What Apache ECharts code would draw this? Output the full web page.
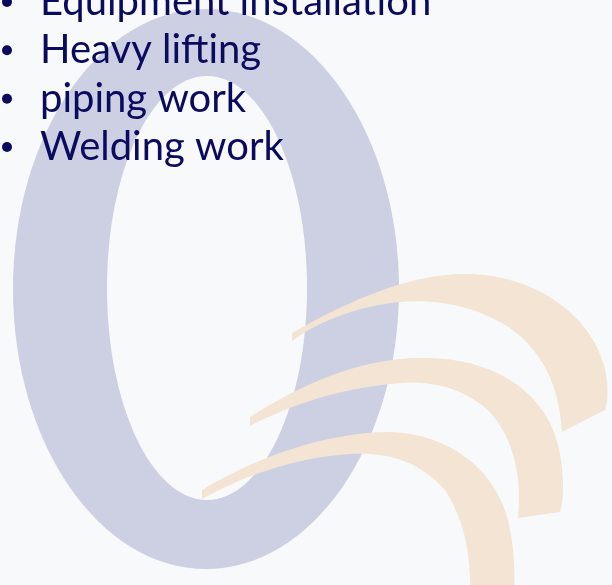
<!DOCTYPE html>
<html><head><meta charset="utf-8">
<script src="https://cdn.jsdelivr.net/npm/echarts@6/dist/echarts.min.js"></script>
<style>html,body{margin:0;padding:0;background:#f8f9fb}#c{width:612px;height:585px}</style>
</head><body><div id="c"></div>
<script>
// Bullet list text
const bulletItems = ['Equipment installation', 'Heavy lifting', 'piping work', 'Welding work'];

// Logo geometry (decorative background), in canvas-like units
const ringOuter = [206, 289, 193, 280];
const ringInner = [207, 288, 100, 212];
const swooshTop = [
  ['M', 292, 333], ['C', 350, 300, 410, 274, 465, 274], ['C', 535, 274, 590, 315, 604, 365],
  ['C', 610, 390, 607, 405, 605, 410], ['L', 562, 432], ['C', 560, 395, 548, 355, 510, 328],
  ['C', 480, 308, 440, 298, 400, 302], ['C', 360, 306, 320, 320, 292, 341], ['Z']
];
const swooshMid = [
  ['M', 250, 417], ['C', 300, 385, 360, 358, 420, 358], ['C', 490, 356, 545, 390, 558, 445],
  ['C', 565, 475, 564, 500, 560, 512], ['L', 518, 518], ['C', 522, 480, 515, 440, 490, 412],
  ['C', 465, 388, 430, 380, 400, 383], ['C', 340, 388, 290, 405, 250, 426], ['Z']
];
const swooshLow = [
  ['M', 202, 490], ['C', 260, 455, 330, 432, 390, 432], ['C', 450, 434, 495, 470, 508, 520],
  ['C', 515, 550, 515, 575, 514, 600], ['L', 470, 600], ['C', 472, 560, 465, 520, 445, 490],
  ['C', 420, 462, 390, 452, 350, 454], ['C', 290, 458, 240, 478, 202, 499], ['Z']
];

function ellipseSegs(e) {
  const [cx, cy, rx, ry] = e, k = 0.5523;
  return [
    ['M', cx - rx, cy],
    ['C', cx - rx, cy - ry * k, cx - rx * k, cy - ry, cx, cy - ry],
    ['C', cx + rx * k, cy - ry, cx + rx, cy - ry * k, cx + rx, cy],
    ['C', cx + rx, cy + ry * k, cx + rx * k, cy + ry, cx, cy + ry],
    ['C', cx - rx * k, cy + ry, cx - rx, cy + ry * k, cx - rx, cy],
    ['Z']
  ];
}

const logoShapes = [
  { segs: ellipseSegs(ringOuter), fill: '#cdd0e3' },
  { segs: ellipseSegs(ringInner), fill: '#f8f9fb' },
  { segs: swooshTop, fill: '#f3e4d3' },
  { segs: swooshMid, fill: '#f3e4d3' },
  { segs: swooshLow, fill: '#f3e4d3' }
];

const chart = echarts.init(document.getElementById('c'), null, { renderer: 'canvas' });
chart.setOption({
  backgroundColor: '#f8f9fb',
  animation: false,
  grid: [
    { left: 0, right: 0, top: 0, bottom: 0 },
    { left: 7, width: 100, top: 2, height: 145 }
  ],
  xAxis: [
    { gridIndex: 0, type: 'value', min: 0, max: 612, show: false },
    { gridIndex: 1, type: 'value', min: 0, max: 1, show: false }
  ],
  yAxis: [
    { gridIndex: 0, type: 'value', min: 0, max: 585, inverse: true, show: false },
    { gridIndex: 1, type: 'category', data: bulletItems, inverse: true, boundaryGap: false, show: false }
  ],
  series: [
    {
      type: 'custom', xAxisIndex: 0, yAxisIndex: 0, z: 1, silent: true, clip: false,
      data: logoShapes.map((s, i) => [i, 0]),
      renderItem: function (params, api) {
        const s = logoShapes[params.dataIndex];
        const d = s.segs.map(function (seg) {
          let out = seg[0];
          for (let i = 1; i < seg.length; i += 2) {
            const p = api.coord([seg[i], seg[i + 1]]);
            out += ' ' + p[0].toFixed(1) + ' ' + p[1].toFixed(1);
          }
          return out;
        }).join(' ');
        return { type: 'path', shape: { pathData: d }, style: { fill: s.fill } };
      }
    },
    {
      type: 'scatter', xAxisIndex: 1, yAxisIndex: 1, z: 5, silent: true, clip: false,
      symbol: 'circle', symbolSize: 10,
      itemStyle: { color: '#0a0a5e', opacity: 1 },
      data: bulletItems.map(n => [0, n]),
      label: {
        show: true, position: 'right', distance: 28,
        formatter: p => p.value[1],
        color: '#0a0a5e', fontFamily: 'Lato', fontSize: 40, fontWeight: 'normal'
      }
    }
  ]
});
</script>
</body></html>
